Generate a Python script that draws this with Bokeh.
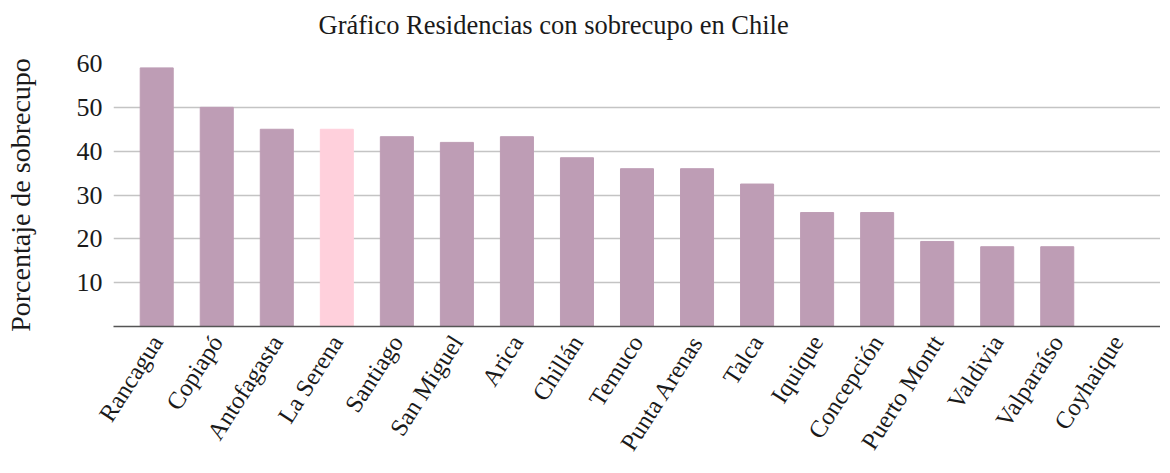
from bokeh.plotting import figure
from bokeh.models import ColumnDataSource, FixedTicker, Range1d, FactorRange
from bokeh.embed import file_html
from bokeh.resources import INLINE

ciudades = ["Rancagua", "Copiapó", "Antofagasta", "La Serena", "Santiago", "San Miguel",
            "Arica", "Chillán", "Temuco", "Punta Arenas", "Talca", "Iquique",
            "Concepción", "Puerto Montt", "Valdivia", "Valparaíso", "Coyhaique"]
porcentajes = [59, 50, 45, 45, 43.3, 42, 43.3, 38.5, 36, 36, 32.5, 26, 26, 19.4, 18.2, 18.2, 0]
colores = ["#BE9DB5"] * 17
colores[3] = "#FFD0DC"
y_ticks = [10, 20, 30, 40, 50, 60]
titulo = "Gráfico Residencias con sobrecupo en Chile"
etiqueta_y = "Porcentaje de sobrecupo"

FONT = "Liberation Serif"
TXT = "#1a1a1a"

src = ColumnDataSource(dict(x=ciudades, top=porcentajes, color=colores))

xr = FactorRange(factors=ciudades, range_padding=0.22, range_padding_units="absolute")

p = figure(x_range=xr, y_range=Range1d(0, 60), width=1160, height=465,
           output_backend="svg", toolbar_location=None, title=titulo,
           min_border_left=113, min_border_right=0, min_border_top=63,
           min_border_bottom=139)
p.outline_line_color = None
p.background_fill_color = "white"
p.border_fill_color = "white"

p.vbar(x="x", top="top", bottom=0, width=0.55, color="color", source=src)

p.title.text_font = FONT
p.title.text_font_size = "26.5px"
p.title.text_font_style = "normal"
p.title.text_color = TXT
p.title.align = "left"
p.title.offset = 205
p.title.standoff = 4
p.title.padding = dict(left=0, right=0, top=0, bottom=22)

p.xgrid.grid_line_color = None
p.ygrid.grid_line_color = "#c4c4c4"
p.ygrid.grid_line_width = 1.5
p.ygrid.ticker = FixedTicker(ticks=y_ticks)

ya = p.yaxis[0]
ya.ticker = FixedTicker(ticks=y_ticks)
ya.axis_line_color = None
ya.major_tick_line_color = None
ya.minor_tick_line_color = None
ya.major_label_text_font = FONT
ya.major_label_text_font_size = "26px"
ya.major_label_text_color = TXT
ya.major_label_standoff = 5
ya.axis_label = etiqueta_y
ya.axis_label_text_font = FONT
ya.axis_label_text_font_size = "28px"
ya.axis_label_text_font_style = "normal"
ya.axis_label_text_color = TXT
ya.axis_label_standoff = 38

xa = p.xaxis[0]
xa.axis_line_color = "#555555"
xa.axis_line_width = 1.5
xa.major_tick_line_color = None
xa.minor_tick_line_color = None
xa.major_label_text_font = FONT
xa.major_label_text_font_size = "24.5px"
xa.major_label_text_color = TXT
xa.major_label_orientation = 1.0
xa.major_label_standoff = 5

open("out.html", "w").write(file_html(p, INLINE))
